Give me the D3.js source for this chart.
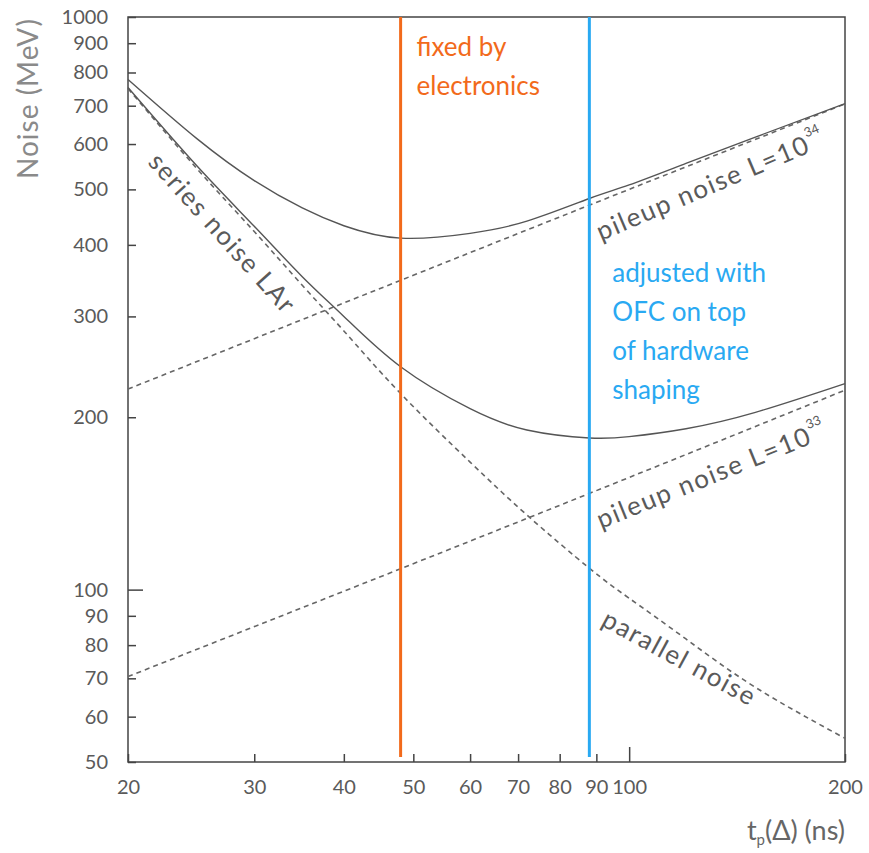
<!DOCTYPE html>
<html>
<head>
<meta charset="utf-8">
<script src="https://cdn.jsdelivr.net/npm/d3@7"></script>
<style>
  body { margin: 0; background: #fff; }
  svg text { font-family: Lato, "Open Sans", sans-serif; }
</style>
</head>
<body>
<svg id="chart" width="869" height="853"></svg>
<script>
const tp = [20, 25, 30, 35, 40, 48, 60, 72, 88, 100, 120, 150, 200];
// noise (MeV)
const seriesParallel = [750, 542, 422, 340, 283, 220, 167, 135, 109, 96.6, 82, 67.5, 55];
const totalL34 = [778, 612, 518, 464, 432, 411, 419, 440, 482, 509, 555, 617, 706];
const totalL33 = [753, 548, 431, 352, 300, 245, 207, 190, 184, 185, 191, 204, 229];
const pileupTp = [20, 50, 100, 200];
const pileupL34 = [224, 354, 500, 705];
const pileupL33 = [70.5, 111, 157, 223];

const yTicks = [50, 60, 70, 80, 90, 100, 200, 300, 400, 500, 600, 700, 800, 900, 1000];
const xTicks = [20, 30, 40, 50, 60, 70, 80, 90, 100, 200];
const fixedTp = 48;     // orange line
const adjustedTp = 88;  // blue line

const svg = d3.select('#chart');
const mLeft = 128, mRight = 845, mTop = 17, mBottom = 762;

const x = d3.scaleLog().domain([20, 200]).range([mLeft, mRight]);
const y = d3.scaleLog().domain([50, 1000]).range([mBottom, mTop]);

const frameColor = '#444';
const labelColor = '#5a5a5a';

// frame
svg.append('rect')
    .attr('x', mLeft).attr('y', mTop)
    .attr('width', mRight - mLeft).attr('height', mBottom - mTop)
    .attr('fill', 'none')
    .attr('stroke', frameColor)
    .attr('stroke-width', 1.5);

// y axis, ticks pointing inward
const yAxis = svg.append('g')
    .attr('transform', 'translate(' + mLeft + ',0)')
    .call(d3.axisLeft(y).tickValues(yTicks).tickSize(-7).tickPadding(20).tickFormat(d3.format('d')));
yAxis.select('.domain').remove();
yAxis.selectAll('.tick line')
    .attr('x2', d => d == 100 ? 15 : 8)
    .attr('stroke', frameColor).attr('stroke-width', 1.5);
yAxis.selectAll('.tick text')
    .attr('fill', labelColor)
    .style('font-size', '20px');

// x axis
const xAxis = svg.append('g')
    .attr('transform', 'translate(0,' + mBottom + ')')
    .call(d3.axisBottom(x).tickValues(xTicks).tickSize(-7).tickPadding(18).tickFormat(d3.format('d')));
xAxis.select('.domain').remove();
xAxis.selectAll('.tick line')
    .attr('y2', d => d == 100 ? -15 : -8)
    .attr('stroke', frameColor).attr('stroke-width', 1.5);
xAxis.selectAll('.tick text')
    .attr('fill', labelColor)
    .style('font-size', '20px');

// axis titles
svg.append('text')
    .attr('transform', 'translate(38,' + (mTop + 1) + ') rotate(-90)')
    .attr('text-anchor', 'end')
    .attr('fill', '#8a8a8a')
    .style('font-size', '28px')
    .style('letter-spacing', '1px')
    .text('Noise (MeV)');

const xt = svg.append('text')
    .attr('x', mRight).attr('y', 840)
    .attr('text-anchor', 'end')
    .attr('fill', '#666')
    .style('font-size', '27px');
xt.append('tspan').text('t');
xt.append('tspan').attr('dy', 5).style('font-size', '15px').text('p');
xt.append('tspan').attr('dy', -5).text('(Δ) (ns)');

// curves
const line = d3.line()
    .x(d => x(d[0]))
    .y(d => y(d[1]))
    .curve(d3.curveNatural);

function drawCurve(xs, ys, dashed) {
    svg.append('path')
        .datum(xs.map((t, i) => [t, ys[i]]))
        .attr('d', line)
        .attr('fill', 'none')
        .attr('stroke', dashed ? '#666' : '#555')
        .attr('stroke-width', dashed ? 1.6 : 1.4)
        .attr('stroke-dasharray', dashed ? '5,4' : null);
}
drawCurve(pileupTp, pileupL34, true);
drawCurve(pileupTp, pileupL33, true);
drawCurve(tp, seriesParallel, true);
drawCurve(tp, totalL34, false);
drawCurve(tp, totalL33, false);

// curve labels
function curveLabel(px, py, angle, txt, sup) {
    const t = svg.append('text')
        .attr('transform', 'translate(' + px + ',' + py + ') rotate(' + angle + ')')
        .attr('fill', labelColor)
        .style('font-size', '26px')
        .style('letter-spacing', '1.6px');
    t.append('tspan').text(txt);
    if (sup) {
        t.append('tspan').attr('dy', -15).style('font-size', '13px').style('letter-spacing', '0px').text(sup);
    }
}
curveLabel(147, 163, 48, 'series noise LAr');
curveLabel(601, 241, -23, 'pileup noise  L=10', '34');
curveLabel(601, 529, -22, 'pileup noise  L=10', '33');
curveLabel(600, 625, 28.5, 'parallel noise');

// vertical markers
const orange = '#F26A1B', blue = '#29A9F2';
svg.append('line')
    .attr('x1', x(fixedTp)).attr('x2', x(fixedTp))
    .attr('y1', mTop).attr('y2', mBottom - 5)
    .attr('stroke', orange).attr('stroke-width', 3);
svg.append('line')
    .attr('x1', x(adjustedTp)).attr('x2', x(adjustedTp))
    .attr('y1', mTop).attr('y2', mBottom - 5)
    .attr('stroke', blue).attr('stroke-width', 3);

const fixedLines = ['fixed by', 'electronics'];
svg.append('g').selectAll('text').data(fixedLines).join('text')
    .attr('x', x(fixedTp) + 16)
    .attr('y', (d, i) => 56 + i * 39)
    .attr('fill', orange)
    .style('font-size', '26px')
    .text(d => d);

const adjustedLines = ['adjusted with', 'OFC on top', 'of hardware', 'shaping'];
svg.append('g').selectAll('text').data(adjustedLines).join('text')
    .attr('x', x(adjustedTp) + 23)
    .attr('y', (d, i) => 282 + i * 39)
    .attr('fill', blue)
    .style('font-size', '26px')
    .text(d => d);
</script>
</body>
</html>
